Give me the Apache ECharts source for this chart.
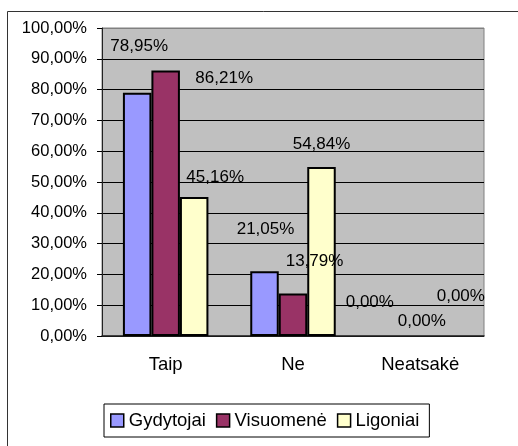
<!DOCTYPE html>
<html>
<head>
<meta charset="utf-8">
<script src="https://cdn.jsdelivr.net/npm/echarts@6/dist/echarts.min.js"></script>
<style>
  html, body { margin: 0; padding: 0; background: #fff; }
  #chart { width: 518px; height: 446px; }
</style>
</head>
<body>
<div id="chart"></div>
<script>
const categories = ["Taip", "Ne", "Neatsakė"];
const gydytojai = [78.95, 21.05, 0];
const visuomene = [86.21, 13.79, 0];
const ligoniai = [45.16, 54.84, 0];

// label nudges (px) so the value labels sit where they do in the original
const offGyd = [[2, -38], [1, -33], [-22, -25]];
const offVis = [[58.5, 16.5], [21.5, -23.5], [1.5, -6]];
const offLig = [[21, -11], [0, -14], [12, -31]];

const font = "'Liberation Sans', Arial, sans-serif";
const pct = v => v.toFixed(2).replace(".", ",") + "%";

const makeSeries = (name, values, offsets, color) => ({
  name: name,
  type: "bar",
  barWidth: 28.5,
  barGap: "0%",
  itemStyle: { color: color, borderColor: "#000", borderWidth: 2 },
  label: {
    show: true,
    position: "top",
    distance: 0,
    color: "#000",
    fontFamily: font,
    fontSize: 17,
    formatter: p => pct(p.value),
  },
  data: values.map((v, i) => ({
    value: v,
    label: { offset: offsets[i] },
    // empty bars leave no outline
    itemStyle: v === 0 ? { borderWidth: 0 } : undefined,
  })),
});

const gridColors = [];
for (let i = 0; i < 10; i++) gridColors.push("#000");
gridColors.push("#808080");

const chart = echarts.init(document.getElementById("chart"));
chart.setOption({
  animation: false,
  backgroundColor: "#fff",
  graphic: [
    {
      type: "rect",
      shape: { x: 7.5, y: 11.5, width: 700, height: 600 },
      style: { fill: null, stroke: "#333", lineWidth: 1 },
      silent: true,
    },
  ],
  grid: {
    left: 102,
    right: 34,
    top: 28,
    bottom: 110,
    show: true,
    backgroundColor: "#C0C0C0",
    borderColor: "#808080",
    borderWidth: 1,
  },
  legend: {
    left: 104,
    top: 404,
    padding: [7, 10, 7, 6],
    itemWidth: 13,
    itemHeight: 13,
    itemGap: 10,
    icon: "rect",
    backgroundColor: "#fff",
    borderColor: "#000",
    borderWidth: 1,
    itemStyle: { borderColor: "#000", borderWidth: 1.5 },
    textStyle: { color: "#000", fontFamily: font, fontSize: 18.5 },
    data: ["Gydytojai", "Visuomenė", "Ligoniai"],
  },
  xAxis: {
    type: "category",
    data: categories,
    axisLine: { lineStyle: { color: "#222", width: 1.5 } },
    axisTick: { length: 6, lineStyle: { color: "#000" } },
    axisLabel: { color: "#000", fontFamily: font, fontSize: 18.5, margin: 19 },
  },
  yAxis: {
    type: "value",
    min: 0,
    max: 100,
    interval: 10,
    axisLine: { show: true, lineStyle: { color: "#222", width: 1 } },
    axisTick: { show: true, length: 5, lineStyle: { color: "#000" } },
    axisLabel: { color: "#000", fontFamily: font, fontSize: 16.5, margin: 15, formatter: v => pct(v) },
    splitLine: { show: true, lineStyle: { color: gridColors, width: 1 } },
  },
  series: [
    makeSeries("Gydytojai", gydytojai, offGyd, "#9999FF"),
    makeSeries("Visuomenė", visuomene, offVis, "#993366"),
    makeSeries("Ligoniai", ligoniai, offLig, "#FFFFCC"),
  ],
});
</script>
</body>
</html>
